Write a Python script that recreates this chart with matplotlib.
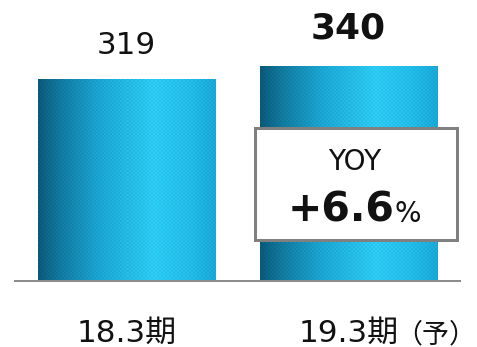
import numpy as np
import matplotlib.pyplot as plt
from matplotlib.colors import LinearSegmentedColormap
from matplotlib.patches import Rectangle

plt.rcParams["font.family"] = ["DejaVu Sans", "Noto Sans CJK JP"]

# Sales by period (the second one is a forecast)
periods = ["18.3期", "19.3期"]
period_notes = ["", "（予）"]
sales = [319, 340]
yoy_label = "+6.6"

x = np.arange(len(periods))
width = 0.8

fig = plt.figure(figsize=(477 / 72, 347 / 72), dpi=72)
ax = fig.add_axes([15 / 477, 66 / 347, 445 / 477, 281 / 347])

bars = ax.bar(x, sales, width, color="none")

# cylinder-like shading: dark on the left, bright just right of centre
shade = LinearSegmentedColormap.from_list(
    "cyl", [(0.0, "#0a5a7a"), (0.12, "#11799e"), (0.35, "#1aa6d2"),
            (0.65, "#2ccbf4"), (0.85, "#22bce9"), (1.0, "#1aa8d8")])
cols = 177
rows = 220
grad = np.tile(np.linspace(0, 1, cols), (rows, 1))
rgb = shade(grad)[..., :3]
# fine dotted texture
yy, xx = np.mgrid[0:rows, 0:cols]
dots = ((xx // 2 + yy // 2) % 2) * 0.06 - 0.03
rgb = np.clip(rgb * (1 + dots[..., None]), 0, 1)

for rect in bars:
    x0, w, h = rect.get_x(), rect.get_width(), rect.get_height()
    im = ax.imshow(rgb, extent=(x0, x0 + w, 0, h), aspect="auto",
                   interpolation="nearest", zorder=2)
    im.set_clip_path(rect)
    ax.add_patch(rect)

ax.set_xlim(-0.502, 1.502)
ax.set_ylim(0, 443.7)

for side in ["top", "left", "right"]:
    ax.spines[side].set_visible(False)
ax.spines["bottom"].set_color("#8c8c8c")
ax.spines["bottom"].set_linewidth(2)
ax.spines["bottom"].set_zorder(3)
ax.set_xticks([])
ax.set_yticks([])

# value labels above the bars, the forecast one in bold
ax.annotate(f"{sales[0]}", xy=(x[0], sales[0]), xytext=(0, 25),
            textcoords="offset points", ha="center", va="baseline",
            fontsize=31, color="#111111")
ax.annotate(f"{sales[1]}", xy=(x[1], sales[1]), xytext=(0, 27),
            textcoords="offset points", ha="center", va="baseline",
            fontsize=36, fontweight="bold", color="#111111")

# period labels under the axis; the note hangs off the right of the name
fig.canvas.draw()
for xi, name, note in zip(x, periods, period_notes):
    t = ax.annotate(name, xy=(xi, 0), xytext=(0, -61),
                    textcoords="offset points", ha="center", va="baseline",
                    fontsize=31, color="#111111", annotation_clip=False)
    if note:
        bb = t.get_window_extent(renderer=fig.canvas.get_renderer())
        x_right = ax.transData.inverted().transform((bb.x1, 0))[0]
        ax.annotate(note, xy=(x_right, 0), xytext=(-3, -61),
                    textcoords="offset points", ha="left", va="baseline",
                    fontsize=27, color="#111111", annotation_clip=False)

# year-over-year box
box = Rectangle((0.579, 64.7), 0.91, 176.9, facecolor="white",
                edgecolor="#808080", linewidth=3, zorder=4)
ax.add_patch(box)
ax.text(1.029, 175, "YOY", ha="center", va="baseline", fontsize=28,
        color="#111111", zorder=5)
ax.text(1.205, 93.6, yoy_label, ha="right", va="baseline", fontsize=41,
        fontweight="bold", color="#111111", zorder=5)
ax.text(1.205, 93.6, "%", ha="left", va="baseline", fontsize=28,
        color="#111111", zorder=5)

fig.savefig("out.png", dpi=72)
